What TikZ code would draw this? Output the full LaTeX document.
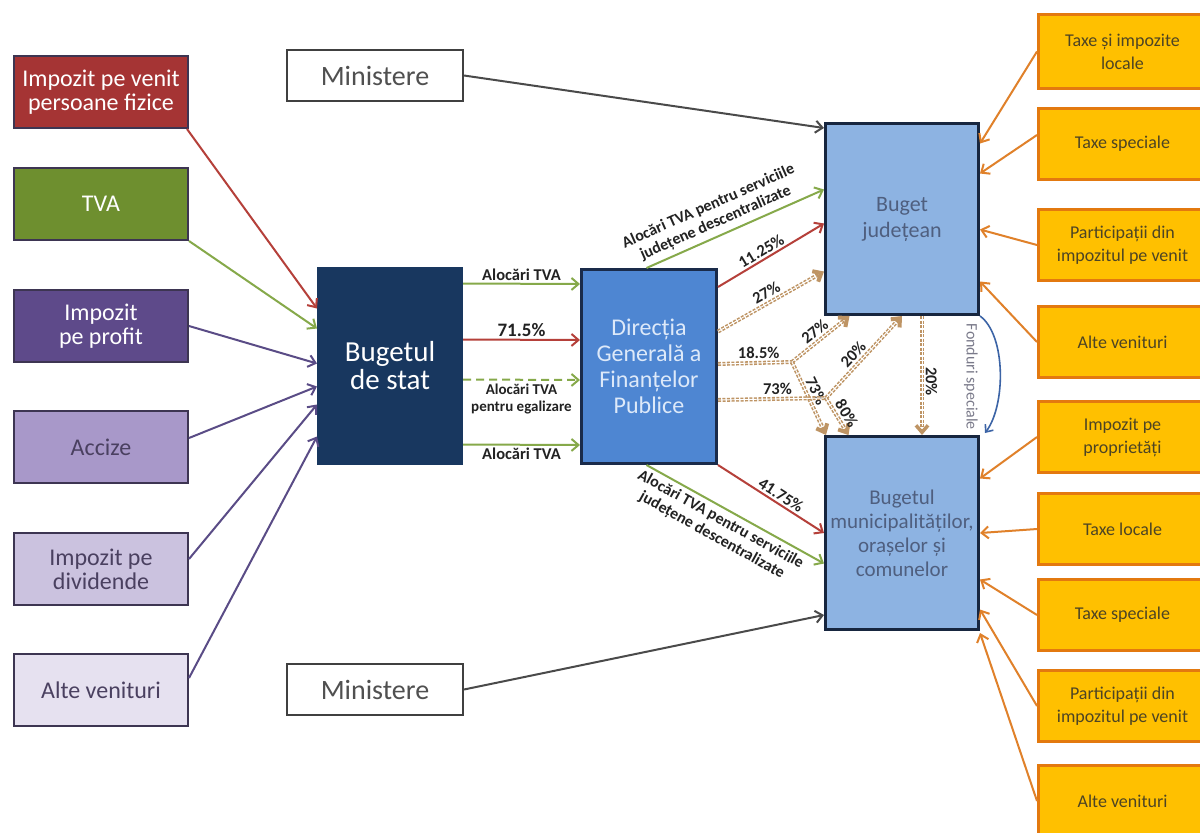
\documentclass[tikz,border=0pt]{standalone}
\usepackage{fontspec}
\setmainfont{Carlito}
\usetikzlibrary{arrows.meta}
\definecolor{cipv}{HTML}{A53434}
\definecolor{ctva}{HTML}{6E8F2F}
\definecolor{cprof}{HTML}{5E4A8A}
\definecolor{cacc}{HTML}{A898C9}
\definecolor{cdiv}{HTML}{CBC2DF}
\definecolor{calte}{HTML}{E6E1F0}
\definecolor{lborder}{HTML}{3D3552}
\definecolor{ltext}{HTML}{4A4060}
\definecolor{arred}{HTML}{B5403A}
\definecolor{argreen}{HTML}{86A94A}
\definecolor{arpurp}{HTML}{5A4C86}
\definecolor{argray}{HTML}{4A4A4A}
\definecolor{cstat}{HTML}{18375F}
\definecolor{cdgfp}{HTML}{4E86D2}
\definecolor{dgfpb}{HTML}{1A2B4A}
\definecolor{dgfpt}{HTML}{DDE9F9}
\definecolor{cjud}{HTML}{8DB3E2}
\definecolor{judb}{HTML}{17263F}
\definecolor{judt}{HTML}{4F5F7F}
\definecolor{ofill}{HTML}{FFC000}
\definecolor{oborder}{HTML}{E3790F}
\definecolor{otext}{HTML}{4D4424}
\definecolor{arorange}{HTML}{E0812A}
\definecolor{dashc}{HTML}{BE9464}
\definecolor{bluec}{HTML}{3C64A6}
\definecolor{mborder}{HTML}{404040}
\definecolor{mtext}{HTML}{505050}
\definecolor{fgray}{HTML}{7A7A8A}
\definecolor{labc}{HTML}{222222}
\begin{document}
\begin{tikzpicture}[x=1pt,y=-1pt,
  box/.style={draw, line width=2pt, anchor=north west, inner sep=0pt, align=center},
  lbox/.style={box, draw=lborder, minimum width=174pt, minimum height=72pt, font=\fontsize{24}{24}\selectfont},
  obox/.style={box, fill=ofill, draw=oborder, line width=3pt, minimum width=168pt, minimum height=71pt, text=otext, font=\fontsize{18}{23}\selectfont},
  mbox/.style={box, fill=white, draw=mborder, minimum width=176pt, minimum height=51pt, font=\fontsize{28}{28}\selectfont, text=mtext},
  bigbox/.style={box, line width=3pt},
  tip/.style={-{Straight Barb[length=7pt,width=12pt]}},
  arr/.style={line width=2pt, tip},
  lab/.style={font=\bfseries\fontsize{16.5}{18}\selectfont, text=labc, inner sep=2pt, align=center},
  slab/.style={font=\bfseries\fontsize{15}{17}\selectfont, text=labc, inner sep=2pt, align=center},
  llab/.style={font=\bfseries\fontsize{16}{18}\selectfont, text=labc, inner sep=2pt, align=center},
  dsh/.style={draw=dashc, line width=4pt, dash pattern=on 3pt off 1.5pt, tip,
      postaction={draw=white, line width=0.9pt, solid, -, shorten >=9pt}},
  dshn/.style={draw=dashc, line width=4pt, dash pattern=on 3pt off 1.5pt,
      postaction={draw=white, line width=0.9pt, solid}}
]
\clip (0,0) rectangle (1200,833);
\fill[white] (0,0) rectangle (1200,833);

% left revenue boxes
\node[lbox, fill=cipv, text=white] (ipv) at (13,55) {Impozit pe venit\\persoane fizice};
\node[lbox, fill=ctva, text=white] (tva) at (13,167) {TVA};
\node[lbox, fill=cprof, text=white] (prof) at (13,289) {Impozit\\pe profit};
\node[lbox, fill=cacc, text=ltext] (acc) at (13,410) {Accize};
\node[lbox, fill=cdiv, text=ltext] (div) at (13,532) {Impozit pe\\dividende};
\node[lbox, fill=calte, text=ltext] (alte) at (13,653) {Alte venituri};

% ministere
\node[mbox] (min1) at (286,49) {Ministere};
\node[mbox] (min2) at (286,663) {Ministere};

% central boxes
\node[bigbox, fill=cstat, draw=cstat, text=white, minimum width=143pt, minimum height=195pt,
  font=\fontsize{29}{28}\selectfont] (stat) at (317,267) {Bugetul\\de stat};
\node[bigbox, fill=cdgfp, draw=dgfpb, text=dgfpt, minimum width=135pt, minimum height=194pt,
  font=\fontsize{24}{26}\selectfont] (dgfp) at (580,268) {Direcția\\Generală a\\Finanțelor\\Publice};
\node[bigbox, fill=cjud, draw=judb, text=judt, minimum width=153pt, minimum height=191pt,
  font=\fontsize{22}{26}\selectfont] (jud) at (824,122) {Buget\\județean};
\node[bigbox, fill=cjud, draw=judb, text=judt, minimum width=153pt, minimum height=193pt,
  font=\fontsize{21}{24}\selectfont] (mun) at (824,435) {Bugetul\\municipalităților,\\orașelor și\\comunelor};

% orange boxes
\node[obox, minimum height=74pt] (o1) at (1037,13) {Taxe și impozite\\locale};
\node[obox] (o2) at (1037,107) {Taxe speciale};
\node[obox] (o3) at (1037,208) {Participații din\\impozitul pe venit};
\node[obox] (o4) at (1037,305) {Alte venituri};
\node[obox] (o5) at (1037,400) {Impozit pe\\proprietăți};
\node[obox] (o6) at (1037,492) {Taxe locale};
\node[obox] (o7) at (1037,578) {Taxe speciale};
\node[obox] (o8) at (1037,669) {Participații din\\impozitul pe venit};
\node[obox] (o9) at (1037,764) {Alte venituri};

% left arrows into Bugetul de stat
\draw[arr, arred] ([xshift=-2pt]ipv.south east) -- ([yshift=57.5pt]stat.west);
\draw[arr, argreen] (tva.south east) -- ([yshift=37.5pt]stat.west);
\draw[arr, arpurp] (prof.east) -- ([yshift=2.5pt]stat.west);
\draw[arr, arpurp] ([yshift=9pt]acc.east) -- ([yshift=-20.5pt]stat.west);
\draw[arr, arpurp] ([yshift=10pt]div.east) -- ([yshift=-38.5pt]stat.west);
\draw[arr, arpurp] ([yshift=12pt]alte.east) -- ([yshift=-70.5pt]stat.west);

% ministere arrows
\draw[arr, argray] (min1.east) -- ([yshift=-6pt]jud.north west);
\draw[arr, argray] (min2.east) -- ([yshift=16pt]mun.south west);

% stat -> dgfp
\draw[arr, argreen] ([yshift=82.5pt]stat.east) -- node[lab, above] {Alocări TVA} ([yshift=82.5pt]dgfp.west);
\draw[arr, arred] ([yshift=26.5pt]stat.east) -- node[lab, above, font=\bfseries\fontsize{19}{19}\selectfont] {71.5\%} ([yshift=26.5pt]dgfp.west);
\draw[arr, argreen, dash pattern=on 8pt off 5pt] ([yshift=-13.5pt]stat.east) -- node[slab, below, yshift=-1pt] {Alocări TVA\\pentru egalizare} ([yshift=-13.5pt]dgfp.west);
\draw[arr, argreen] ([yshift=-78.5pt]stat.east) -- node[lab, below] {Alocări TVA} ([yshift=-78.5pt]dgfp.west);

% dgfp -> jud / mun
\draw[arr, argreen] ([xshift=-2.5pt]dgfp.north) -- node[llab, sloped, above=3pt, pos=0.42] {Alocări TVA pentru serviciile\\județene descentralizate} ([yshift=29.5pt]jud.west);
\draw[arr, arred] ([yshift=-19pt]dgfp.north east) -- node[lab, sloped, above, pos=0.45] {11.25\%} ([yshift=-4.5pt]jud.west);
\draw[dsh] ([yshift=35pt]dgfp.east) -- node[lab, sloped, above, pos=0.5] {27\%} ([yshift=-52.5pt]jud.west);

\coordinate (j1) at (792,362);
\coordinate (j2) at (826,398);
\draw[dshn] ([yshift=2.5pt]dgfp.east) -- node[lab, above, pos=0.55] {18.5\%} (j1);
\draw[dsh] (j1) -- node[lab, sloped, above] {27\%} ([xshift=-52.5pt]jud.south);
\draw[dsh] (j1) -- node[lab, sloped, above, pos=0.45] {73\%} ([xshift=2pt]mun.north west);
\draw[dshn] ([yshift=-33.5pt]dgfp.east) -- node[lab, above, pos=0.55] {73\%} (j2);
\draw[dsh] (j2) -- node[lab, sloped, above, pos=0.45] {20\%} (jud.south);
\draw[dsh] (j2) -- node[lab, sloped, above, pos=0.55] {80\%} ([xshift=-53.5pt]mun.north);
\draw[draw=dashc, line width=3.5pt, dash pattern=on 3pt off 1.5pt, tip,
      postaction={draw=white, line width=1pt, solid, -, shorten >=9pt}]
  ([xshift=20pt]jud.south) -- node[lab, sloped, above, pos=0.55] {20\%} ([xshift=20pt]mun.north);

\draw[line width=1.6pt, bluec, -{Straight Barb[length=6pt,width=10pt]}]
  (jud.south east) .. controls (1006,335) and (1006,405) .. ([xshift=5pt,yshift=2pt]mun.north east);
\node[text=fgray, font=\fontsize{16}{16}\selectfont, rotate=-90] (fs) at (971,377) {Fonduri speciale};

\draw[arr, arred] (dgfp.south east) -- node[lab, sloped, above, pos=0.55] {41.75\%} (mun.west);
\draw[arr, argreen] ([xshift=-2.5pt]dgfp.south) -- node[llab, sloped, below=2pt, pos=0.45] {Alocări TVA pentru serviciile\\județene descentralizate} ([yshift=-30.5pt]mun.west);

% orange arrows
\draw[arr, arorange] (o1.west) -- ([yshift=75.5pt]jud.east);
\draw[arr, arorange] ([yshift=9pt]o2.west) -- ([yshift=45.5pt]jud.east);
\draw[arr, arorange] (o3.west) -- ([yshift=-10.5pt]jud.east);
\draw[arr, arorange] (o4.west) -- ([yshift=-62.5pt]jud.east);
\draw[arr, arorange] (o5.west) -- ([yshift=54.5pt]mun.east);
\draw[arr, arorange] (o6.west) -- (mun.east);
\draw[arr, arorange] (o7.west) -- ([yshift=-46.5pt]mun.east);
\draw[arr, arorange] (o8.west) -- ([yshift=-76.5pt]mun.east);
\draw[arr, arorange] (o9.west) -- ([yshift=-2pt]mun.south east);
\end{tikzpicture}
\end{document}
